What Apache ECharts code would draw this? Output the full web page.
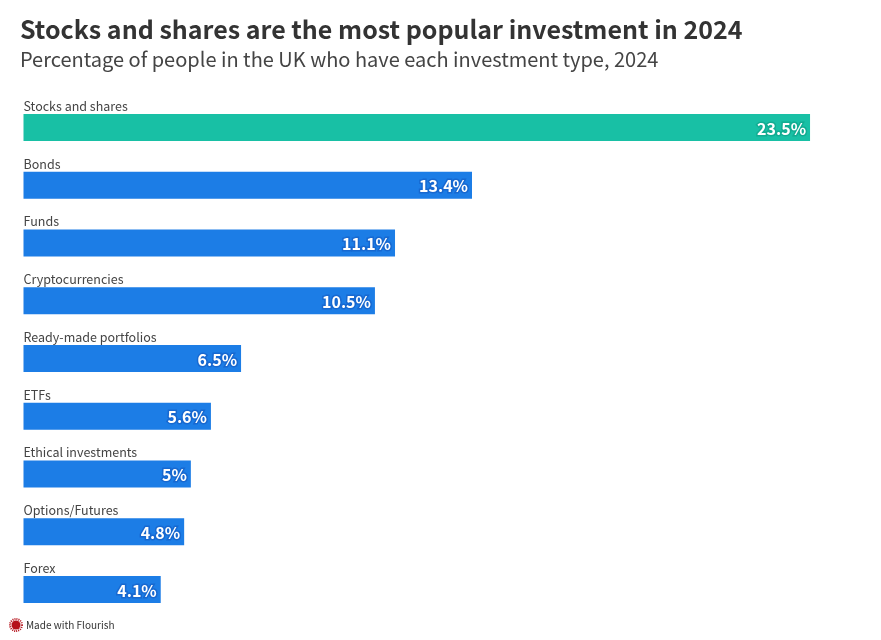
<!DOCTYPE html>
<html>
<head>
<meta charset="utf-8">
<style>html,body{margin:0;padding:0;background:#fff}#c{width:881px;height:640px}</style>
<script src="https://cdn.jsdelivr.net/npm/echarts@6/dist/echarts.min.js"></script>
</head>
<body>
<div id="c"></div>
<script>
const categories = ["Stocks and shares","Bonds","Funds","Cryptocurrencies","Ready-made portfolios","ETFs","Ethical investments","Options/Futures","Forex"];
const values = [23.5,13.4,11.1,10.5,6.5,5.6,5,4.8,4.1];
const colors = ["#18c0a5","#1c7de6","#1c7de6","#1c7de6","#1c7de6","#1c7de6","#1c7de6","#1c7de6","#1c7de6"];
const halos = ["#12ac92","#1768d0","#1768d0","#1768d0","#1768d0","#1768d0","#1768d0","#1768d0","#1768d0"];
const titleText = "Stocks and shares are the most popular investment in 2024";
const subtitleText = "Percentage of people in the UK who have each investment type, 2024";
const FONT = '"Noto Sans CJK SC","Noto Sans",sans-serif';

const chart = echarts.init(document.getElementById('c'), null, {renderer:'canvas'});
chart.setOption({
  animation:false,
  backgroundColor:'#ffffff',
  title:[
    {text:titleText,left:20,top:17,padding:0,textStyle:{fontFamily:FONT,fontSize:25,fontWeight:700,color:'#333333'}},
    {text:subtitleText,left:20,top:49,padding:0,textStyle:{fontFamily:FONT,fontSize:20,fontWeight:400,color:'#444444'}}
  ],
  grid:{left:23.5,top:98.6,width:836.75,height:519.75,containLabel:false},
  xAxis:{type:'value',min:0,max:25,show:false},
  yAxis:{type:'category',inverse:true,data:categories,
    axisLine:{show:false},axisTick:{show:false},splitLine:{show:false},
    axisLabel:{inside:true,margin:0,align:'left',verticalAlign:'bottom',padding:[0,0,15,0],
      fontFamily:FONT,fontSize:12.5,color:'#444444'},
    z:5},
  series:[{
    type:'bar',barWidth:27,silent:true,
    data:values.map((v,i)=>({value:v,itemStyle:{color:colors[i]},
      label:{textBorderColor:halos[i]}})),
    label:{show:true,position:'insideRight',distance:4,offset:[0,1],
      formatter:p=>p.value+'%',
      fontFamily:FONT,fontSize:16,fontWeight:700,color:'#ffffff',textBorderWidth:3}
  }],
  graphic:[
    {type:'circle',shape:{cx:16,cy:625,r:4.5},style:{fill:'#b5121b'},silent:true},
    {type:'circle',shape:{cx:16,cy:625,r:6},style:{fill:'none',stroke:'#b5121b',lineWidth:2,lineDash:[1,1]},silent:true},
    {type:'text',x:26,y:620,style:{text:'Made with Flourish',fontFamily:FONT,fontSize:10,fill:'#333333'},silent:true}
  ]
});
</script>
</body>
</html>
